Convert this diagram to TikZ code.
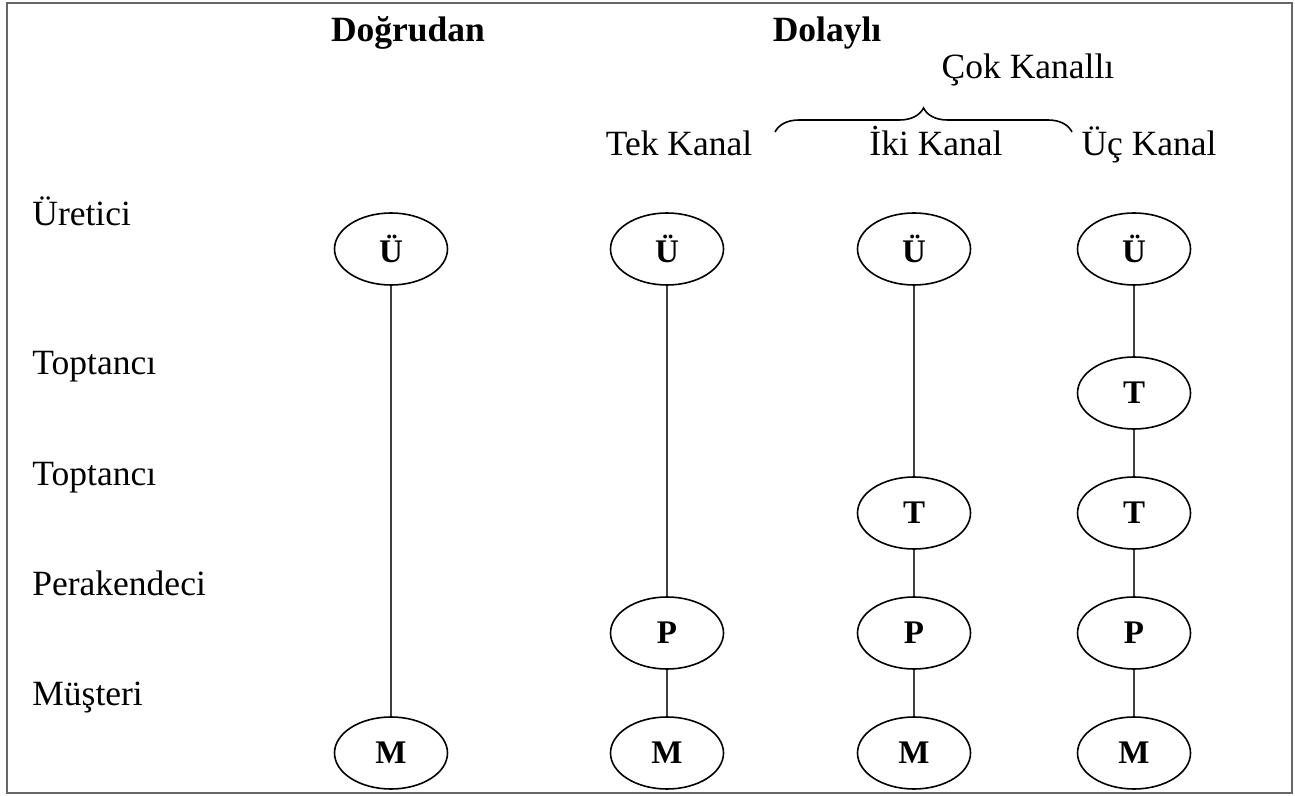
\documentclass[tikz,border=0pt]{standalone}
\usepackage{fontspec}
\setmainfont{Liberation Serif}
\usetikzlibrary{shapes.geometric}
\usetikzlibrary{decorations.pathreplacing}

\begin{document}
\begin{tikzpicture}[x=0.5pt,y=-0.5pt,
  durak/.style={draw, ellipse, line width=0.8pt, minimum width=56.5pt, minimum height=36pt, inner sep=0pt, font=\fontsize{16.5}{19}\selectfont\bfseries},
  baslik/.style={anchor=base, inner sep=0pt, font=\fontsize{17.75}{21}\selectfont\bfseries},
  kanal/.style={anchor=base, inner sep=0pt, font=\fontsize{17.75}{21}\selectfont},
  seviye/.style={anchor=base west, inner sep=0pt, font=\fontsize{17.75}{21}\selectfont},
  hat/.style={line width=1.1pt, black!75}]

\useasboundingbox (0,0) rectangle (1295,796);
\draw[black!60, line width=0.8pt] (7,3) rectangle (1292,793);

% basliklar
\node[baslik] (dogrudan) at (408,42) {Doğrudan};
\node[baslik] (dolayli) at (827,42) {Dolaylı};
\node[kanal] (cok) at (1028,79) {Çok Kanallı};
\node[kanal] (tek) at (679,156) {Tek Kanal};
\node[kanal] (iki) at (936,156) {İki Kanal};
\node[kanal] (uc) at (1149,156) {Üç Kanal};

\coordinate (b1) at (775,132);
\coordinate (b2) at (1072,132);
\draw[line width=0.8pt, decorate, decoration={brace, amplitude=12pt}] (b1) -- (b2);

% seviyeler
\node[seviye] (uretici) at (32,226) {Üretici};
\node[seviye] (toptanci1) at (32,375) {Toptancı};
\node[seviye] (toptanci2) at (32,485) {Toptancı};
\node[seviye] (perakendeci) at (32,595) {Perakendeci};
\node[seviye] (musteri) at (32,705) {Müşteri};

% duraklar
\foreach \k/\x in {1/391, 2/667, 3/914, 4/1134} {
  \node[durak] (u\k) at (\x,249) {Ü};
  \node[durak] (m\k) at (\x,753) {M};
}
\foreach \k/\x in {2/667, 3/914, 4/1134}
  \node[durak] (p\k) at (\x,633) {P};
\foreach \k/\x in {3/914, 4/1134}
  \node[durak] (t\k) at (\x,513) {T};
\node[durak] (s4) at (1134,393) {T};

\draw[hat] (u1) -- (m1);
\draw[hat] (u2) -- (p2) -- (m2);
\draw[hat] (u3) -- (t3) -- (p3) -- (m3);
\draw[hat] (u4) -- (s4) -- (t4) -- (p4) -- (m4);

\end{tikzpicture}
\end{document}
